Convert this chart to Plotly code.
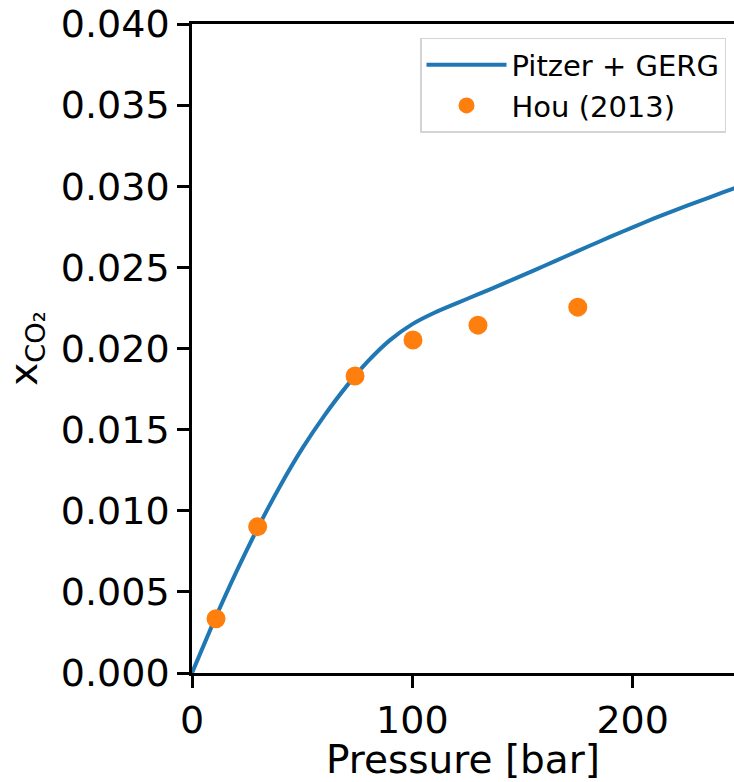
import plotly.graph_objects as go

# Model curve: Pitzer + GERG (x_CO2 in units of 1e-3)
model_p = [0, 10, 20, 30, 40, 50, 60, 70, 80, 90, 100, 110, 120, 130, 140, 150,
           160, 170, 180, 190, 200, 210, 220, 230, 240, 250]
model_x = [0.0, 3.2, 6.2, 8.98, 11.53, 13.83, 15.85, 17.65, 19.23, 20.53, 21.5, 22.2,
           22.78, 23.35, 23.92, 24.51, 25.1, 25.7, 26.3, 26.89, 27.47, 28.03, 28.56,
           29.07, 29.57, 30.06]
model_x = [v / 1000 for v in model_x]

# Experimental data: Hou (2013)
hou_p = [10.9, 29.8, 74.0, 100.3, 129.8, 175.1]
hou_x = [0.00334, 0.00902, 0.01831, 0.02052, 0.02144, 0.02255]

y_ticks = [0.000, 0.005, 0.010, 0.015, 0.020, 0.025, 0.030, 0.035, 0.040]
x_ticks = [0, 100, 200]

FONT = "DejaVu Sans"

fig = go.Figure()
fig.add_trace(go.Scatter(
    x=model_p, y=model_x, mode="lines", name="Pitzer + GERG",
    line=dict(color="#1f77b4", width=4, shape="spline", smoothing=0.7),
))
fig.add_trace(go.Scatter(
    x=hou_p, y=hou_x, mode="markers", name="Hou (2013)",
    marker=dict(color="#ff7f0e", size=19, line=dict(width=0)), cliponaxis=False,
))

fig.update_layout(
    width=734, height=782,
    margin=dict(l=192, r=0, t=24, b=105),
    paper_bgcolor="white", plot_bgcolor="white",
    font=dict(family=FONT, color="black", size=38),
    showlegend=True,
    legend=dict(
        x=(726 - 192) / (734 - 192), y=1 - (38 - 24) / (782 - 24 - 105),
        xanchor="right", yanchor="top",
        font=dict(family=FONT, size=29, color="black"),
        bgcolor="white", bordercolor="#d4d4d4", borderwidth=1.5,
        itemwidth=80, tracegroupgap=0,
    ),
)

fig.update_xaxes(
    range=[0, 246.0], tickvals=x_ticks, ticktext=[str(v) for v in x_ticks],
    showgrid=False, zeroline=False,
    showline=True, linecolor="black", linewidth=2.5, mirror=True,
    ticks="outside", ticklen=12, tickwidth=2.5, tickcolor="black",
    tickfont=dict(family=FONT, size=38, color="black"),
    title=dict(text="Pressure [bar]", font=dict(family=FONT, size=39, color="black"), standoff=12),
)
fig.update_yaxes(
    range=[0, 0.040], tickvals=y_ticks, ticktext=[f"{v:.3f}" for v in y_ticks],
    showgrid=False, zeroline=False,
    showline=True, linecolor="black", linewidth=2.5, mirror=False,
    ticks="outside", ticklen=12, tickwidth=2.5, tickcolor="black",
    tickfont=dict(family=FONT, size=38, color="black"),
    title=dict(text="x<sub>CO₂</sub>", font=dict(family=FONT, size=39, color="black"), standoff=12),
)

fig.write_html("out.html")
